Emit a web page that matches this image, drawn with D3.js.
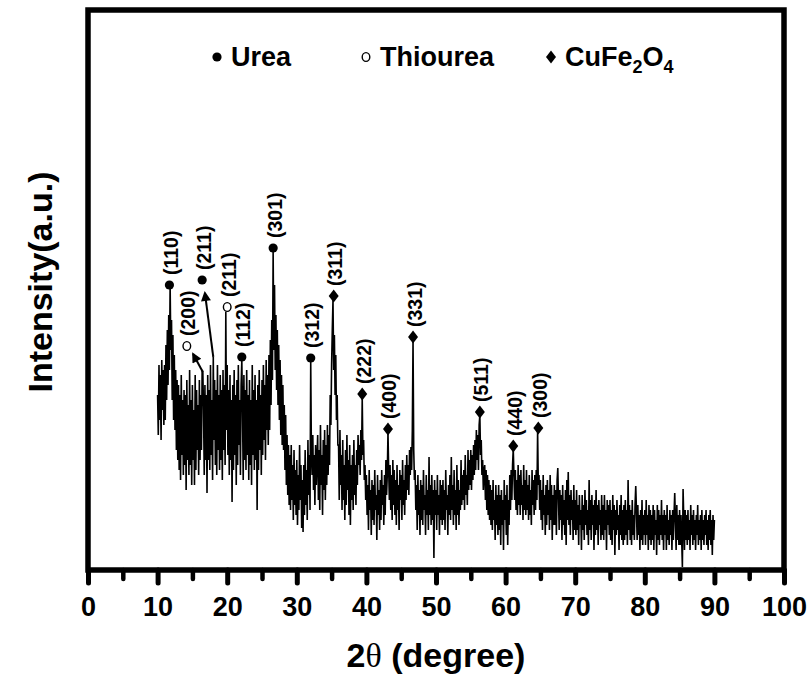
<!DOCTYPE html>
<html><head><meta charset="utf-8">
<script src="https://cdn.jsdelivr.net/npm/d3@7"></script>
<style>body{margin:0;background:#fff} svg{display:block}</style>
</head><body>
<svg id="chart" width="810" height="682"></svg>
<script>
// ---- data ----
const angleStart = 10, angleStep = 0.1;
const intensity = [
175,135,205,150,195,130,210,160,200,145,
205,150,225,170,240,185,255,200,285,220,
250,170,235,150,215,140,200,120,190,110,
185,100,175,90,195,115,170,95,180,105,
175,80,190,110,165,95,200,105,170,85,
185,110,160,85,195,100,180,120,165,95,
190,110,175,120,200,198,160,95,185,110,
175,77,195,110,180,100,205,115,170,90,
213,130,190,105,180,95,205,120,175,100,
195,110,180,90,200,120,185,105,258,140,
205,115,180,95,195,110,170,68,185,100,
200,115,175,85,190,105,205,125,170,95,
185,210,160,90,195,110,180,100,200,115,
175,90,190,105,170,85,205,115,180,100,
195,110,170,60,185,100,200,120,175,95,
190,115,205,130,185,110,210,140,195,125,
215,140,230,165,250,190,318,220,285,200,
255,180,240,165,225,150,210,135,195,125,
185,120,165,100,155,85,135,75,125,65,
115,60,125,70,105,50,120,65,100,55,
110,45,95,60,125,70,105,42,90,38,
105,55,120,65,100,50,130,75,115,60,
208,115,95,135,80,115,65,125,85,110,
135,70,120,60,145,85,115,55,130,80,
140,70,125,85,145,95,135,105,175,145,
205,240,270,200,235,175,215,150,175,125,
125,70,140,85,115,60,130,70,105,50,
120,65,135,80,110,55,125,45,105,70,
115,60,130,75,105,65,120,85,135,105,
125,95,140,110,172,115,130,90,105,70,
95,55,85,40,100,60,80,35,90,50,
85,45,100,60,75,30,95,55,80,40,
90,50,100,65,85,45,95,55,110,75,
95,138,100,70,105,60,95,50,110,65,
100,55,90,45,105,60,85,40,100,70,
95,50,110,65,90,55,105,70,115,80,
105,75,120,95,123,100,140,230,120,90,
100,60,85,40,95,55,80,35,90,50,
85,45,100,60,75,35,95,55,80,40,
113,55,85,45,95,50,80,12,90,55,
80,40,95,55,75,35,90,50,85,45,
90,50,80,40,100,60,75,35,85,55,
95,50,113,60,85,45,100,55,80,40,
105,55,90,45,80,60,110,65,95,70,
100,60,115,75,95,65,120,80,110,85,
120,80,115,90,125,95,130,100,140,110,
135,100,145,155,115,130,95,110,80,100,
105,70,100,60,95,55,90,50,85,45,
80,40,90,50,70,30,85,45,75,35,
85,40,75,25,80,45,70,20,90,50,
75,35,85,25,70,45,95,60,100,70,
105,121,95,70,100,60,90,55,105,65,
95,55,100,65,85,50,105,60,90,55,
100,60,85,50,95,55,80,45,100,65,
90,55,95,60,100,70,139,85,95,60,
90,50,80,40,95,55,75,35,85,45,
90,55,80,40,95,50,85,30,75,45,
85,45,80,35,90,102,70,40,80,50,
75,30,85,45,70,35,80,25,90,50,
98,45,75,35,80,50,70,30,85,40,
70,35,80,40,65,25,75,45,60,20,
75,40,65,30,80,45,70,35,60,25,
90,40,70,30,75,45,65,20,70,35,
80,40,65,25,70,45,60,30,75,35,
65,30,75,40,60,20,70,45,65,35,
70,30,60,25,75,40,65,15,60,35,
70,40,55,20,65,35,75,30,60,25,
65,30,70,35,60,25,90,40,65,30,
60,25,70,35,55,30,65,84,60,30,
65,35,55,20,60,30,70,25,55,35,
60,25,70,35,55,20,65,30,60,25,
55,30,65,20,60,35,50,15,65,30,
60,25,55,35,70,30,55,20,60,35,
55,20,65,30,50,25,60,35,55,20,
60,30,55,77,50,20,65,30,55,25,
60,25,55,30,3,81,50,20,60,30,
55,25,60,30,50,20,65,35,55,25,
60,30,50,20,55,35,65,25,50,30,
55,20,60,30,50,25,55,35,60,25,
50,20,55,30,60,25,50,15,55,30,
50
];
const peakLabels = ["(110)","(200)","(211)","(211)","(112)","(301)","(312)","(311)","(222)","(400)","(331)","(511)","(440)","(300)"];
const peakAngles = [11.7,14.2,16.4,20.0,22.1,26.6,32.0,35.3,39.4,43.1,46.7,56.3,61.1,64.7];
const peakLevels = [285,224,290,263,213,322,212,274,176,141,233,158,124,142];
const peakPhases = ["urea","thiourea","urea","thiourea","urea","urea","urea","cufe","cufe","cufe","cufe","cufe","cufe","cufe"];
const arrowFrom = [[16.5,198],[18.0,213]];
const arrowTo = [[15.1,216],[16.8,277]];
const xTicks = [0,10,20,30,40,50,60,70,80,90,100];
const xMinorTicks = [5,15,25,35,45,55,65,75,85,95];
const legendNames = ["Urea","Thiourea","CuFe2O4"];
const legendPhases = ["urea","thiourea","cufe"];

// ---- drawing ----
const svg = d3.select("#chart");
const L = 88, R = 784, T = 10, B = 570;
const x = d3.scaleLinear().domain([0, 100]).range([L, R]);
const y = d3.scaleLinear().domain([0, 560]).range([B, T]);
const font = "'Liberation Sans', Arial, sans-serif";

svg.append("defs").append("marker")
  .attr("id", "ah").attr("viewBox", "0 0 10 10").attr("refX", 8).attr("refY", 5)
  .attr("markerWidth", 7).attr("markerHeight", 5).attr("orient", "auto-start-reverse")
  .attr("markerUnits", "strokeWidth")
  .append("path").attr("d", "M0,0 L10,5 L0,10 Z").attr("fill", "#000");

// trace
const line = d3.line().x((d, i) => x(angleStart + i * angleStep)).y(d => y(d));
svg.append("path").datum(intensity).attr("d", line)
  .attr("fill", "none").attr("stroke", "#000").attr("stroke-width", 1.6).attr("stroke-linejoin", "miter");

// frame
svg.append("rect").attr("x", L).attr("y", T).attr("width", R - L).attr("height", B - T)
  .attr("fill", "none").attr("stroke", "#000").attr("stroke-width", 5.5);

// x axis
const gx = svg.append("g").attr("transform", `translate(0,${B})`)
  .call(d3.axisBottom(x).tickValues(xTicks).tickSize(13).tickFormat(d3.format("d")));
gx.select(".domain").remove();
gx.selectAll(".tick line").attr("stroke-width", 5).attr("stroke-linecap", "round");
gx.selectAll(".tick text").attr("y", 46).attr("dy", 0).attr("font-family", font).attr("font-weight", "bold")
  .attr("font-size", 27).attr("fill", "#000");
const gm = svg.append("g").attr("transform", `translate(0,${B})`)
  .call(d3.axisBottom(x).tickValues(xMinorTicks).tickSize(9).tickFormat(""));
gm.select(".domain").remove();
gm.selectAll(".tick line").attr("stroke-width", 4.5).attr("stroke-linecap", "round");

// axis titles
const xt = svg.append("text").attr("x", 436).attr("y", 667).attr("text-anchor", "middle")
  .attr("font-family", font).attr("font-weight", "bold").attr("font-size", 34);
xt.append("tspan").text("2");
xt.append("tspan").attr("font-family", "'Liberation Serif', serif").attr("font-weight", "normal").text("θ");
xt.append("tspan").text(" (degree)");
svg.append("text").attr("transform", "translate(52,282) rotate(-90)").attr("text-anchor", "middle")
  .attr("font-family", font).attr("font-weight", "bold").attr("font-size", 34).text("Intensity(a.u.)");

// symbols
function drawSymbol(g, phase, cx, cy) {
  if (phase === "urea") g.append("circle").attr("cx", cx).attr("cy", cy).attr("r", 4.6).attr("fill", "#000");
  else if (phase === "thiourea") g.append("ellipse").attr("cx", cx).attr("cy", cy).attr("rx", 3.8).attr("ry", 4.4).attr("fill", "#fff").attr("stroke", "#000").attr("stroke-width", 1.4);
  else g.append("path").attr("d", `M${cx},${cy - 6.5} L${cx + 5},${cy} L${cx},${cy + 6.5} L${cx - 5},${cy} Z`).attr("fill", "#000");
}

// peak annotations
const ga = svg.append("g");
peakLabels.forEach((lab, i) => {
  const px = x(peakAngles[i]), py = y(peakLevels[i]);
  drawSymbol(ga, peakPhases[i], px, py);
  ga.append("text").attr("transform", `translate(${px + 1.5},${py - 10}) rotate(-90)`)
    .attr("dominant-baseline", "central").attr("font-family", font).attr("font-weight", "bold")
    .attr("font-size", 19.5).text(lab);
});
arrowFrom.forEach((f, i) => {
  ga.append("line").attr("x1", x(f[0])).attr("y1", y(f[1])).attr("x2", x(arrowTo[i][0])).attr("y2", y(arrowTo[i][1]))
    .attr("stroke", "#000").attr("stroke-width", 2).attr("marker-end", "url(#ah)");
});

// legend
const legendX = [217, 366, 551];
legendNames.forEach((n, i) => {
  drawSymbol(svg, legendPhases[i], legendX[i], 57);
  const t = svg.append("text").attr("x", legendX[i] + 14).attr("y", 66)
    .attr("font-family", font).attr("font-weight", "bold").attr("font-size", 27);
  if (n === "CuFe2O4") {
    t.append("tspan").text("CuFe");
    t.append("tspan").attr("font-size", 18).attr("dy", 7).text("2");
    t.append("tspan").attr("dy", -7).text("O");
    t.append("tspan").attr("font-size", 18).attr("dy", 7).text("4");
  } else t.text(n);
});
</script>
</body></html>
